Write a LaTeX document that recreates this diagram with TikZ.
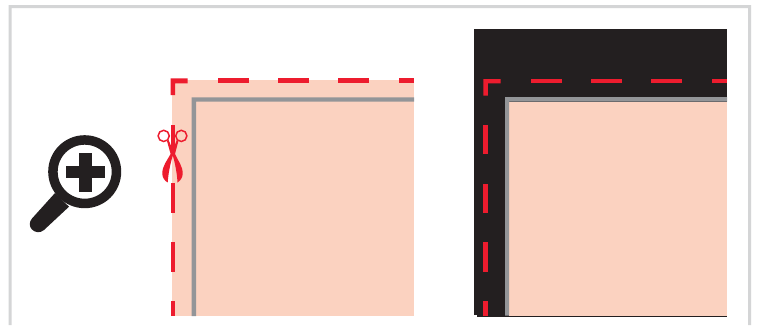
\documentclass[tikz,border=0pt]{standalone}
\definecolor{peach}{HTML}{FBD2C0}
\definecolor{cutred}{HTML}{ED1C2E}
\definecolor{inkblack}{HTML}{231F20}
\definecolor{trimgrey}{HTML}{939598}
\definecolor{framegrey}{HTML}{D4D5D6}
\tikzset{
  x=1pt,y=-1pt,
  redfill/.style={fill=cutred,draw=none},
  greyfill/.style={fill=trimgrey,draw=none},
  blackfill/.style={fill=inkblack,draw=none},
  peachfill/.style={fill=peach,draw=none}
}
\begin{document}
\begin{tikzpicture}
\useasboundingbox (0,0) rectangle (757,325);
\fill[white] (0,0) rectangle (757,325);
% frame
\fill[framegrey] (8.5,325) -- (8.5,5) -- (751,5) -- (751,325) -- (748,325) -- (748,8) -- (11.5,8) -- (11.5,325) -- cycle;
% left panel
\fill[peachfill] (172,80) rectangle (414,316);
\fill[greyfill] (191.7,97.3) -- (414,97.3) -- (414,101.7) -- (196,101.7) -- (196,316) -- (191.7,316) -- cycle;
\fill[redfill] (170.7,78.3) -- (187.6,78.3) -- (187.6,83.3) -- (175,83.3) -- (175,95) -- (170.7,95) -- cycle;
\foreach \a in {218,278,338} \fill[redfill] (\a,78.3) rectangle (\a+31,83.3);
\fill[redfill] (399,78.3) rectangle (414,83.3);
\foreach \a/\b in {125/155,183.3/213,242/271.7,301/316} \fill[redfill] (170.7,\a) rectangle (175,\b);
% scissors
\draw[cutred,line width=1.5] (163.7,135.9) circle (5.6);
\draw[cutred,line width=1.5] (181.3,135.9) circle (5.6);
\fill[redfill] (167,141) -- (168.6,140) -- (172.8,150) -- (176.8,140) -- (178.4,141) -- (175,154)
  .. controls (177.5,160) and (183,166) .. (182.7,174)
  .. controls (182.5,178) and (180,181) .. (177.5,182.5)
  .. controls (177,173) and (175,163) .. (172.8,155.5)
  .. controls (170.5,163) and (168.3,173) .. (167.7,182.5)
  .. controls (165,181) and (162.5,178) .. (162.3,174)
  .. controls (162,166) and (167.5,160) .. (170.6,154) -- cycle;
% right panel
\fill[blackfill] (474,29.3) rectangle (727,315);
\fill[blackfill] (477,315) rectangle (727,316.7);
\fill[peachfill] (509,101.7) rectangle (727,315.7);
\fill[greyfill] (505,97) -- (727,97) -- (727,101.7) -- (509,101.7) -- (509,315.5) -- (505,315.5) -- cycle;
\fill[redfill] (483.3,79) -- (500.7,79) -- (500.7,83.3) -- (487.8,83.3) -- (487.8,95.7) -- (483.3,95.7) -- cycle;
\foreach \a in {530.7,590.7,650.7} \fill[redfill] (\a,79) rectangle (\a+31,83.3);
\fill[redfill] (712,79) rectangle (727,83.3);
\foreach \a/\b in {125/154.3,183.7/213,242.3/271.7,301/315.5} \fill[redfill] (483.3,\a) rectangle (487.8,\b);
% magnifier
\fill[inkblack] (55,193) -- (69,206.7) -- (44,230)
  .. controls (40,233.5) and (35,232.5) .. (32,229.5)
  .. controls (29,226.5) and (29,222) .. (32,218.5) -- cycle;
\fill[white,draw=inkblack,line width=9.5] (84.7,171.7) circle (31.75);
\fill[blackfill] (79.3,153) rectangle (92.3,191.7);
\fill[blackfill] (65.7,166) rectangle (105,178);
\end{tikzpicture}
\end{document}
